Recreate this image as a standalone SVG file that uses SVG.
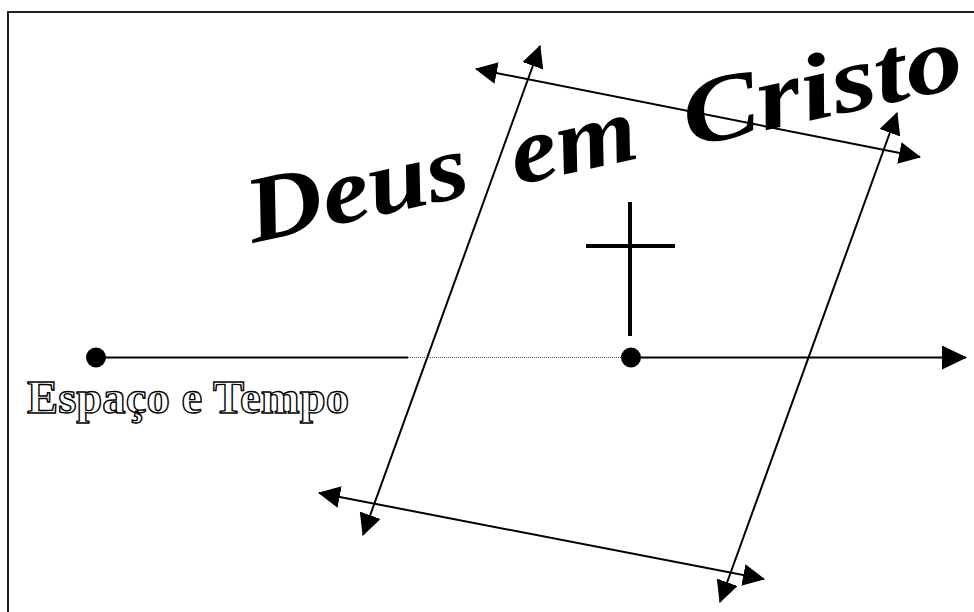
<svg xmlns="http://www.w3.org/2000/svg" width="974" height="612" viewBox="0 0 974 612">
  <style>
    .ln { stroke: #000; stroke-width: 2; fill: none; }
    .arr { marker-start: url(#ah); marker-end: url(#ah); }
    .title { font-family: "Liberation Serif", "DejaVu Serif", serif; font-weight: bold; font-style: italic; font-size: 94px; fill: #000; }
    .lbl { font-family: "Liberation Serif", "DejaVu Serif", serif; font-weight: bold; font-size: 46px; fill: #fff; stroke: #000; stroke-width: 1.4; }
  </style>
  <defs>
    <marker id="ah" viewBox="0 0 22 22" refX="21" refY="11" markerWidth="22" markerHeight="22" markerUnits="userSpaceOnUse" orient="auto-start-reverse">
      <path d="M0,0 L22,11 L0,22 z" fill="#000"/>
    </marker>
    <marker id="ahb" viewBox="0 0 25 24" refX="24" refY="12" markerWidth="25" markerHeight="24" markerUnits="userSpaceOnUse" orient="auto">
      <path d="M0,0 L25,12 L0,24 z" fill="#000"/>
    </marker>
  </defs>
  <rect width="974" height="612" fill="#fff"/>
  <rect id="frame" x="8" y="12" width="1000" height="640" fill="none" stroke="#222" stroke-width="2"/>

  <g id="connectors">
    <line class="ln arr" x1="476" y1="69" x2="920" y2="157"/>
    <line class="ln arr" x1="319" y1="493" x2="764" y2="579"/>
    <line class="ln arr" x1="540" y1="46" x2="363" y2="535"/>
    <line class="ln arr" x1="897" y1="113" x2="720" y2="602"/>
    <line class="ln" x1="96" y1="357.5" x2="408" y2="357.5"/>
    <line x1="408" y1="357.5" x2="621" y2="357.5" stroke="#555" stroke-width="1.2" stroke-dasharray="1 1"/>
    <line class="ln" x1="631" y1="357.5" x2="966" y2="357.5" marker-end="url(#ahb)"/>
  </g>

  <g id="title" transform="rotate(-12.4 253 243)">
    <text class="title" x="253" y="243" textLength="225" lengthAdjust="spacingAndGlyphs">Deus</text>
    <text class="title" x="523" y="243" textLength="128" lengthAdjust="spacingAndGlyphs">em</text>
    <text class="title" x="700" y="243" textLength="284" lengthAdjust="spacingAndGlyphs">Cristo</text>
  </g>

  <g id="cross">
    <line x1="630" y1="202" x2="630" y2="336" stroke="#000" stroke-width="4"/>
    <line x1="586" y1="246" x2="675" y2="246" stroke="#000" stroke-width="4"/>
  </g>

  <g id="start-node">
    <circle cx="96" cy="357.5" r="10" fill="#000"/>
    <text class="lbl" x="27" y="413" textLength="322" lengthAdjust="spacingAndGlyphs">Espaço e Tempo</text>
  </g>

  <g id="christ-node">
    <circle cx="631" cy="357.5" r="10" fill="#000"/>
  </g>
</svg>
